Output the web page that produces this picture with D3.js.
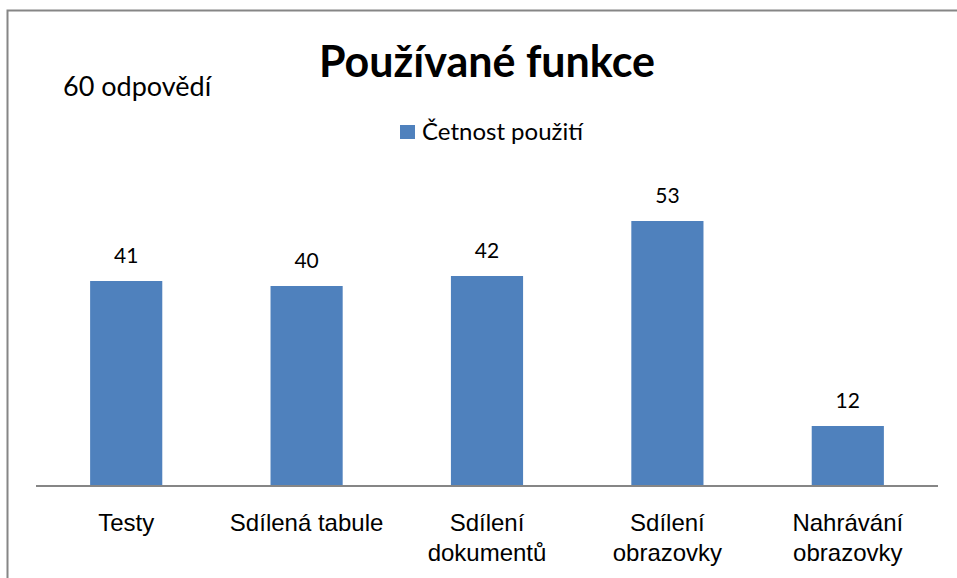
<!DOCTYPE html>
<html>
<head>
<meta charset="utf-8">
<script src="https://cdn.jsdelivr.net/npm/d3@7"></script>
<style>
  html, body { margin: 0; padding: 0; background: #fff; }
  svg { display: block; font-family: Lato, "Open Sans", sans-serif; }
</style>
</head>
<body>
<svg id="canvas"></svg>
<script>
const width = 957;
const height = 578;

const categories = ["Testy", "Sdílená tabule", "Sdílení dokumentů", "Sdílení obrazovky", "Nahrávání obrazovky"];
const tickLabels = ["Testy", "Sdílená tabule", "Sdílení\ndokumentů", "Sdílení\nobrazovky", "Nahrávání\nobrazovky"];
const values = [41, 40, 42, 53, 12];
const seriesName = "Četnost použití";
const title = "Používané funkce";
const note = "60 odpovědí";

const margin = {top: 186, right: 19, bottom: 92, left: 36};

const svg = d3.select("svg#canvas")
    .attr("width", width)
    .attr("height", height);

// frame
svg.append("rect")
    .attr("x", 7.5)
    .attr("y", 10.5)
    .attr("width", width + 10)
    .attr("height", height + 10)
    .attr("fill", "none")
    .attr("stroke", "#868686")
    .attr("stroke-width", 2);

const x = d3.scaleBand()
    .domain(categories)
    .range([margin.left, width - margin.right])
    .paddingInner(0.6)
    .paddingOuter(0.3);

const y = d3.scaleLinear()
    .domain([0, 60])
    .range([height - margin.bottom, margin.top]);

svg.append("g")
  .selectAll("rect")
  .data(values)
  .join("rect")
    .attr("x", (d, i) => x(categories[i]))
    .attr("y", d => y(d))
    .attr("width", x.bandwidth())
    .attr("height", d => y(0) - y(d))
    .attr("fill", "#4f81bd");

svg.append("g")
  .selectAll("text")
  .data(values)
  .join("text")
    .attr("x", (d, i) => x(categories[i]) + x.bandwidth() / 2)
    .attr("y", d => y(d) - 18)
    .attr("text-anchor", "middle")
    .attr("font-size", 21)
    .attr("fill", "#000")
    .text(d => d);

// x axis
const xAxis = svg.append("g")
    .attr("transform", `translate(0,${y(0)})`)
    .call(d3.axisBottom(x).tickSize(0).tickFormat(""));

xAxis.select(".domain")
    .attr("stroke", "#868686")
    .attr("stroke-width", 2)
    .attr("d", `M${margin.left},0H${width - margin.right}`);

xAxis.selectAll(".tick").each(function(d, i) {
  const t = d3.select(this).append("text")
      .attr("text-anchor", "middle")
      .attr("fill", "#000")
      .attr("font-size", 24)
      .attr("y", 45);
  tickLabels[i].split("\n").forEach((line, j) => {
    t.append("tspan")
        .attr("x", 0)
        .attr("dy", j === 0 ? 0 : 30)
        .text(line);
  });
});

// title
svg.append("text")
    .attr("x", 487)
    .attr("y", 77)
    .attr("text-anchor", "middle")
    .attr("font-size", 43)
    .attr("font-weight", "bold")
    .text(title);

svg.append("text")
    .attr("x", 63)
    .attr("y", 96)
    .attr("font-size", 27)
    .text(note);

// legend
const legend = svg.append("g").attr("transform", "translate(400,125)");
legend.append("rect")
    .attr("width", 15)
    .attr("height", 14)
    .attr("fill", "#4f81bd");
legend.append("text")
    .attr("x", 22)
    .attr("y", 15)
    .attr("font-size", 24)
    .text(seriesName);
</script>
</body>
</html>
